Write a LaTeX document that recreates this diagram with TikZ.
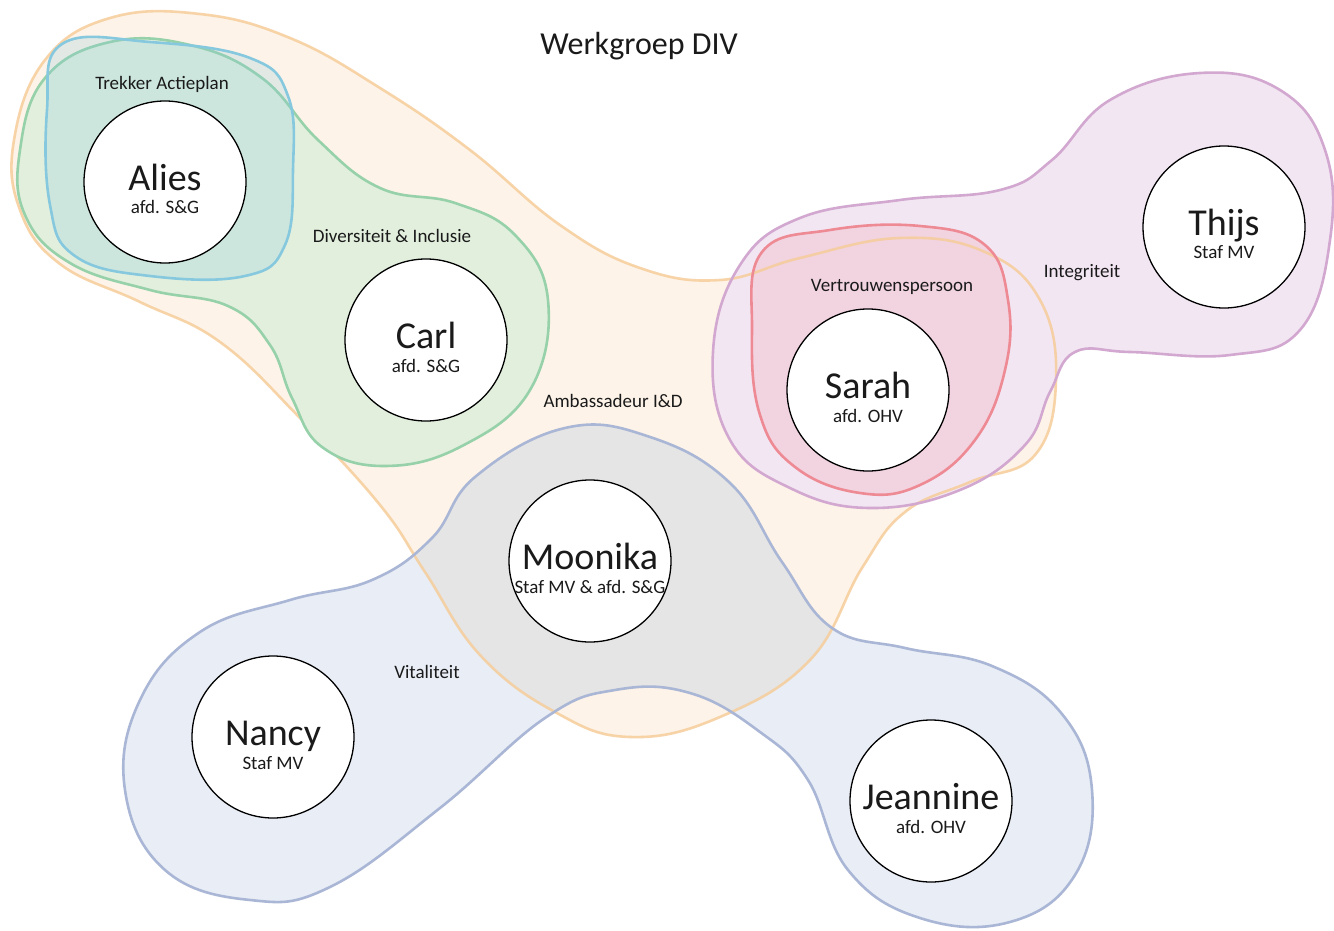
\documentclass[tikz,border=0pt]{standalone}
\usepackage{fontspec}
\setmainfont{Carlito}
\usetikzlibrary{positioning}

\definecolor{ambfill}{HTML}{FDF3E8}
\definecolor{ambline}{HTML}{F6CD9A}
\definecolor{divfill}{HTML}{E2EFDD}
\definecolor{divline}{HTML}{96D1AA}
\definecolor{trekline}{HTML}{86C8DE}
\definecolor{integfill}{HTML}{F3E6F3}
\definecolor{integline}{HTML}{D2A8D0}
\definecolor{vertline}{HTML}{EE8A94}
\definecolor{vitfill}{HTML}{E8EDF6}
\definecolor{vitline}{HTML}{AAB6D5}
\definecolor{overlap}{HTML}{E5E5E5}
\definecolor{ink}{HTML}{1A1A1A}

\newcommand\subfont{\fontsize{19}{22}\selectfont}
\newcommand\who[2]{\makebox[0pt]{#1}\makebox[0pt]{\raisebox{-24pt}{\subfont #2}}}

% blobs, in picture units (px, y downwards)
\def\ambblob{plot[smooth cycle,tension=.7] coordinates {(110,18) (200,14) (290,38) (380,88) (470,150) (560,225) (640,268) (720,280) (800,258) (900,238) (985,252) (1040,300) (1056,380) (1035,455) (970,482) (905,512) (862,568) (810,660) (720,717) (630,737) (555,712) (480,655) (425,572) (380,505) (300,418) (220,342) (140,302) (60,264) (20,210) (14,140) (45,60)}}
\def\divblob{plot[smooth cycle,tension=.7] coordinates {(20,150) (45,78) (110,42) (190,45) (262,78) (318,140) (380,188) (455,203) (515,235) (548,300) (530,390) (462,446) (385,466) (322,447) (292,398) (270,345) (228,306) (150,290) (70,263) (25,215)}}
\def\trekblob{plot[smooth cycle,tension=.7] coordinates {(62,44) (150,42) (250,58) (288,96) (293,170) (285,245) (245,276) (150,276) (75,256) (50,205) (47,110)}}
\def\integblob{plot[smooth cycle,tension=.7] coordinates {(713,352) (740,265) (800,218) (900,200) (1000,190) (1052,160) (1110,100) (1200,73) (1280,90) (1325,150) (1330,240) (1300,330) (1230,355) (1130,352) (1075,352) (1050,392) (1025,445) (960,490) (870,508) (790,488) (730,440)}}
\def\vertblob{plot[smooth cycle,tension=.7] coordinates {(762,252) (830,230) (920,226) (985,245) (1008,300) (1005,370) (975,440) (920,485) (860,493) (795,467) (760,415) (752,330)}}
\def\vitblob{plot[smooth cycle,tension=.7] coordinates {(565,428) (650,437) (730,483) (782,562) (832,628) (905,648) (992,666) (1062,714) (1092,790) (1075,875) (1010,922) (920,918) (848,870) (808,780) (760,732) (690,693) (615,690) (545,718) (440,808) (330,887) (250,900) (165,870) (125,790) (140,700) (200,632) (290,600) (372,580) (432,538) (475,477)}}

\begin{document}
\begin{tikzpicture}[x=1pt,y=-1pt,
    blobline/.style={line width=2.6pt},
    person/.style={circle,draw=black,line width=1.3pt,fill=white,minimum size=162pt,inner sep=0pt,
      text=ink,text height=40pt,text depth=24pt,font=\fontsize{38}{44}\selectfont},
    groep/.style={text=ink,font=\fontsize{19}{22}\selectfont}]
  \useasboundingbox[fill=white] (0,0) rectangle (1334,931);

  % fills
  \fill[ambfill] \ambblob;
  \fill[integfill] \integblob;
  \fill[vertline,fill opacity=.2] \vertblob;
  \fill[vitfill] \vitblob;
  \begin{scope}
    \clip \ambblob;
    \fill[overlap] \vitblob;
  \end{scope}

  % outlines
  \draw[blobline,ambline,opacity=.85] \ambblob;
  \draw[blobline,integline] \integblob;
  \draw[blobline,vertline] \vertblob;
  \draw[blobline,vitline] \vitblob;
  \draw[blobline,divline,fill=divfill] \divblob;
  \draw[blobline,trekline,fill=trekline,fill opacity=.22] \trekblob;

  % titel en groepen
  \node[text=ink,font=\fontsize{32}{38}\selectfont] (titel) at (639,46) {Werkgroep DIV};
  \node[groep] (trekker) at (162,84) {Trekker Actieplan};
  \node[groep] (divers) at (392,236) {Diversiteit \& Inclusie};
  \node[groep] (ambas) at (613,401) {Ambassadeur I\&D};
  \node[groep] (vertr) at (892,287) {Vertrouwenspersoon};
  \node[groep] (integ) at (1082,273) {Integriteit};
  \node[groep] (vital) at (427,672) {Vitaliteit};

  % personen
  \node[person] (alies) at (165,182) {\who{Alies}{afd. S\&G}};
  \node[person] (carl) at (426,340) {\who{Carl}{afd. S\&G}};
  \node[person] (sarah) at (868,390) {\who{Sarah}{afd. OHV}};
  \node[person] (thijs) at (1224,227) {\who{Thijs}{Staf MV}};
  \node[person] (moonika) at (590,561) {\who{Moonika}{Staf MV \& afd. S\&G}};
  \node[person] (nancy) at (273,737) {\who{Nancy}{Staf MV}};
  \node[person] (jeannine) at (931,801) {\who{Jeannine}{afd. OHV}};
\end{tikzpicture}
\end{document}
